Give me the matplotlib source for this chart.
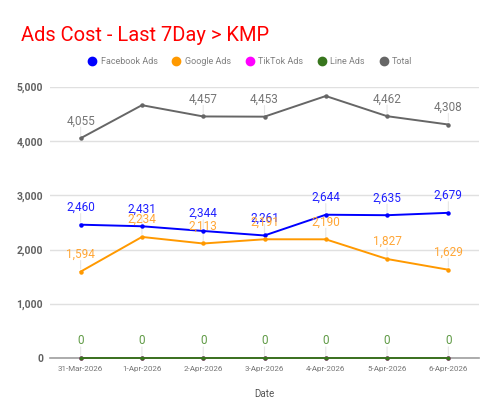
import matplotlib.pyplot as plt
from matplotlib.lines import Line2D

plt.rcParams['font.family'] = ['Roboto', 'DejaVu Sans']

dates = ['31-Mar-2026', '1-Apr-2026', '2-Apr-2026', '3-Apr-2026',
         '4-Apr-2026', '5-Apr-2026', '6-Apr-2026']
facebook = [2460, 2431, 2344, 2261, 2644, 2635, 2679]
google = [1594, 2234, 2113, 2191, 2190, 1827, 1629]
tiktok = [0, 0, 0, 0, 0, 0, 0]
line_ads = [0, 0, 0, 0, 0, 0, 0]
total = [4055, 4665, 4457, 4453, 4834, 4462, 4308]
# which points show a value label (the chart hides overlapping ones)
total_shown = [True, False, True, True, False, True, True]

series = [
    ('Facebook Ads', facebook, '#0000ff', '#2020ff', [True] * 7),
    ('Google Ads', google, '#ff9900', '#ffa636', [True] * 7),
    ('TikTok Ads', tiktok, '#ff00ff', '#ff00ff', [False] * 7),
    ('Line Ads', line_ads, '#38761d', '#5f9a45', [True] * 7),
    ('Total', total, '#666666', '#757575', total_shown),
]

fig = plt.figure(figsize=(5, 4.15), dpi=100)
ax = fig.add_axes([0.1, 0.1373, 0.858, 0.653])

x = list(range(len(dates)))
for name, vals, col, lcol, shown in series:
    ax.plot(x, vals, color=col, lw=1.4, marker='o', ms=2.2, zorder=3,
            clip_on=False)
    for xi, v, s in zip(x, vals, shown):
        if not s:
            continue
        ax.annotate('', xy=(xi, v), xytext=(0, 10), textcoords='offset points',
                    arrowprops=dict(arrowstyle='-', color='#e6e6e6', lw=0.8),
                    zorder=1)
        ax.annotate(f'{v:,}', (xi, v), xytext=(0, 12.5), textcoords='offset points',
                    ha='center', va='center', fontsize=8.5, color=lcol, zorder=4)

ax.set_xlim(-0.5, 6.5)
ax.set_ylim(0, 5000)
ax.set_yticks([0, 1000, 2000, 3000, 4000, 5000])
ax.set_yticklabels([f'{t:,}' for t in ax.get_yticks().astype(int)],
                   fontsize=7.5, fontweight='bold', color='#616161')
ax.set_xticks(x)
ax.set_xticklabels(dates, fontsize=5.8, color='#757575')
ax.tick_params(axis='both', length=0)
ax.tick_params(axis='x', pad=6)
ax.tick_params(axis='y', pad=5)
ax.grid(axis='y', color='#e0e0e0', lw=1)
ax.set_axisbelow(True)
for sp in ['top', 'right', 'left']:
    ax.spines[sp].set_visible(False)
ax.spines['bottom'].set_color('#9e9e9e')
ax.spines['bottom'].set_linewidth(1.2)
ax.set_xlabel('Date', fontsize=7, color='#555555', labelpad=12)

fig.text(0.042, 0.915, 'Ads Cost - Last 7Day > KMP', fontsize=14.5,
         color='#ff0000', va='center')

handles = [Line2D([], [], marker='o', ls='', color=c, ms=6) for _, _, c, _, _ in series]
fig.legend(handles, [s[0] for s in series], loc='center', ncol=5,
           bbox_to_anchor=(0.5, 0.851), frameon=False, fontsize=6.5,
           labelcolor='#808080', handletextpad=0.4, columnspacing=1.6,
           handlelength=1.0)

fig.savefig('out.png', dpi=100)
